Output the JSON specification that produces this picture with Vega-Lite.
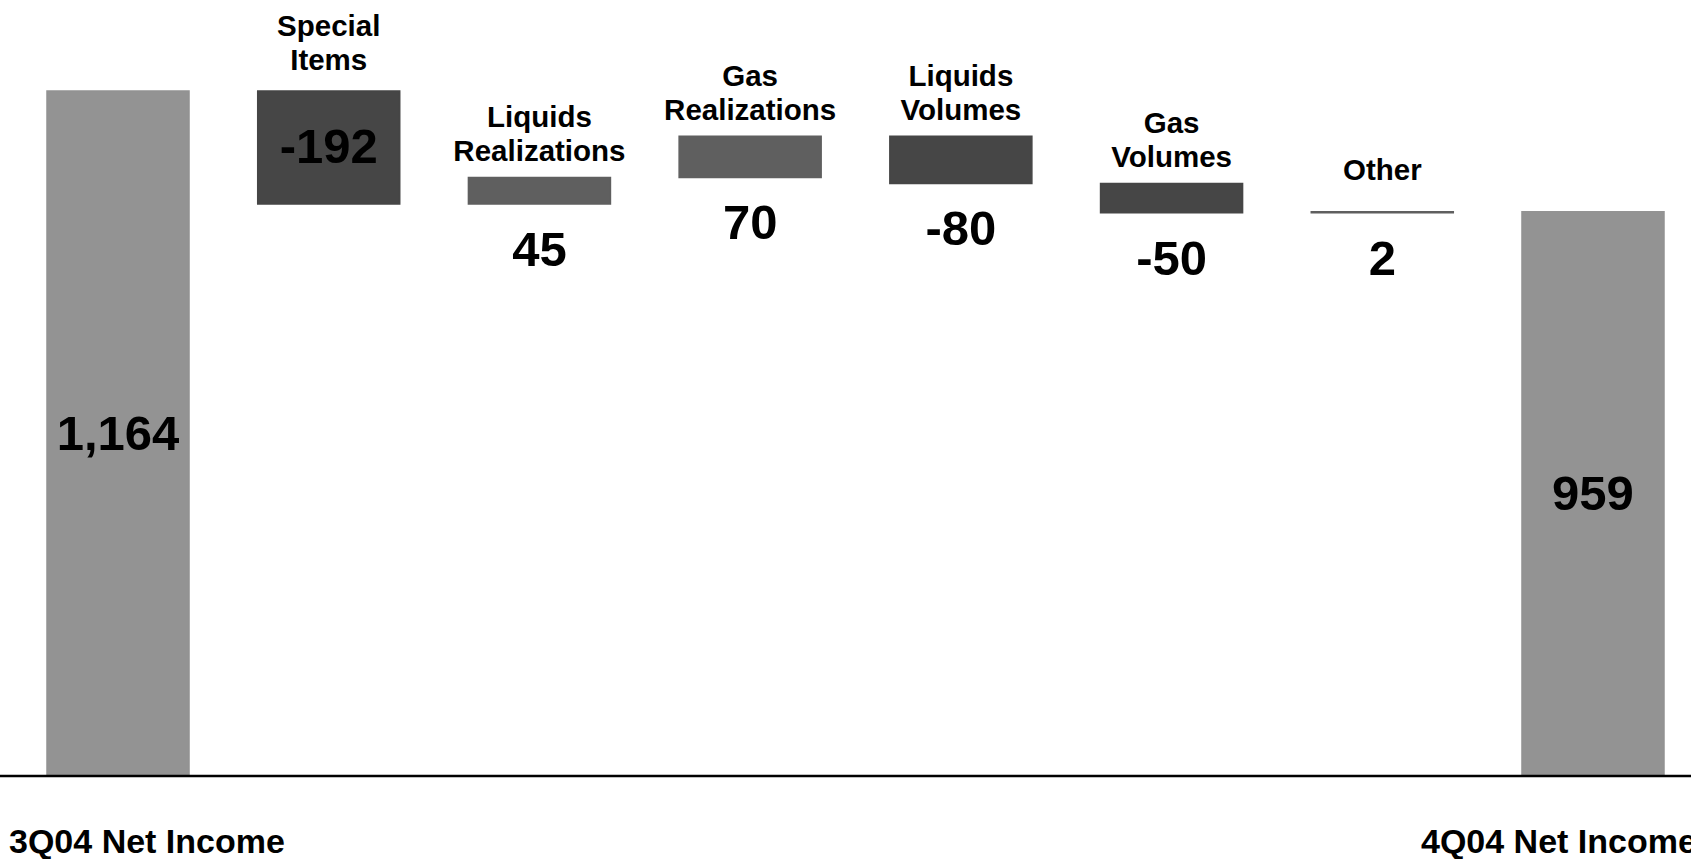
{
  "$schema": "https://vega.github.io/schema/vega-lite/v6.json",
  "width": 1691,
  "height": 859,
  "autosize": {"type": "none"},
  "padding": 0,
  "background": "white",
  "config": {"view": {"stroke": null}},
  "data": {
    "values": [
      {"cat": "3Q04 Net Income", "name": "3Q04 Net Income", "start": 0, "end": 1164, "kind": "total", "text": "1,164"},
      {"cat": "Special Items", "name": "Special\nItems", "start": 1164, "end": 972, "kind": "decrease", "text": "-192"},
      {"cat": "Liquids Realizations", "name": "Liquids\nRealizations", "start": 972, "end": 1017, "kind": "increase", "text": "45"},
      {"cat": "Gas Realizations", "name": "Gas\nRealizations", "start": 1017, "end": 1087, "kind": "increase", "text": "70"},
      {"cat": "Liquids Volumes", "name": "Liquids\nVolumes", "start": 1087, "end": 1007, "kind": "decrease", "text": "-80"},
      {"cat": "Gas Volumes", "name": "Gas\nVolumes", "start": 1007, "end": 957, "kind": "decrease", "text": "-50"},
      {"cat": "Other", "name": "Other", "start": 957, "end": 959, "kind": "increase", "text": "2"},
      {"cat": "4Q04 Net Income", "name": "4Q04 Net Income", "start": 0, "end": 959, "kind": "total", "text": "959"}
    ]
  },
  "transform": [
    {"calculate": "min(datum.start, datum.end)", "as": "lo"},
    {"calculate": "max(datum.start, datum.end)", "as": "hi"},
    {"calculate": "(datum.start + datum.end) / 2", "as": "mid"}
  ],
  "resolve": {"scale": {"x": "shared", "y": "shared"}},
  "layer": [
    {
      "mark": {"type": "bar", "strokeWidth": 1.5},
      "encoding": {
        "x": {"field": "cat", "type": "nominal", "sort": null, "axis": null,
              "scale": {"range": [47, 1664], "paddingInner": 0.326, "paddingOuter": 0}},
        "y": {"field": "start", "type": "quantitative", "axis": null,
              "scale": {"domain": [-141, 1318.6], "nice": false, "zero": false}},
        "y2": {"field": "end"},
        "color": {"field": "kind", "type": "nominal", "legend": null,
                  "scale": {"domain": ["total", "increase", "decrease"], "range": ["#939393", "#5f5f5f", "#464646"]}},
        "stroke": {"field": "kind", "type": "nominal", "legend": null,
                  "scale": {"domain": ["total", "increase", "decrease"], "range": ["#939393", "#5f5f5f", "#464646"]}}
      }
    },
    {
      "data": {"values": [{"base": 0}]},
      "mark": {"type": "rule", "color": "#000000", "strokeWidth": 2.5},
      "encoding": {"y": {"field": "base", "type": "quantitative"}}
    },
    {
      "transform": [{"filter": "datum.kind != 'total' && datum.cat != 'Special Items' && datum.cat != 'Other'"}],
      "mark": {"type": "text", "font": "Liberation Sans", "fontWeight": "bold", "fontSize": 29.5, "lineHeight": 34, "lineBreak": "\n", "baseline": "bottom", "align": "center", "dy": -44, "color": "#000000"},
      "encoding": {"x": {"field": "cat", "type": "nominal", "sort": null}, "y": {"field": "hi", "type": "quantitative"}, "text": {"field": "name"}}
    },
    {
      "transform": [{"filter": "datum.cat == 'Special Items'"}],
      "mark": {"type": "text", "font": "Liberation Sans", "fontWeight": "bold", "fontSize": 29.5, "lineHeight": 34, "lineBreak": "\n", "baseline": "bottom", "align": "center", "dy": -49, "color": "#000000"},
      "encoding": {"x": {"field": "cat", "type": "nominal", "sort": null}, "y": {"field": "hi", "type": "quantitative"}, "text": {"field": "name"}}
    },
    {
      "transform": [{"filter": "datum.cat == 'Other'"}],
      "mark": {"type": "text", "font": "Liberation Sans", "fontWeight": "bold", "fontSize": 29.5, "baseline": "bottom", "align": "center", "dy": -26, "color": "#000000"},
      "encoding": {"x": {"field": "cat", "type": "nominal", "sort": null}, "y": {"field": "hi", "type": "quantitative"}, "text": {"field": "name"}}
    },
    {
      "transform": [{"filter": "datum.kind != 'total' && datum.cat != 'Special Items'"}],
      "mark": {"type": "text", "font": "Liberation Sans", "fontWeight": "bold", "fontSize": 49, "baseline": "middle", "align": "center", "dy": 47, "color": "#000000"},
      "encoding": {"x": {"field": "cat", "type": "nominal", "sort": null}, "y": {"field": "lo", "type": "quantitative"}, "text": {"field": "text"}}
    },
    {
      "transform": [{"filter": "datum.kind == 'total' || datum.cat == 'Special Items'"}],
      "mark": {"type": "text", "font": "Liberation Sans", "fontWeight": "bold", "fontSize": 49, "baseline": "middle", "align": "center", "dy": 1, "color": "#000000"},
      "encoding": {"x": {"field": "cat", "type": "nominal", "sort": null}, "y": {"field": "mid", "type": "quantitative"}, "text": {"field": "text"}}
    },
    {
      "transform": [{"filter": "datum.cat == '3Q04 Net Income'"}],
      "mark": {"type": "text", "font": "Liberation Sans", "fontWeight": "bold", "fontSize": 34, "baseline": "alphabetic", "align": "left", "dx": -109, "color": "#000000"},
      "encoding": {"x": {"field": "cat", "type": "nominal", "sort": null}, "y": {"datum": -131}, "text": {"field": "name"}}
    },
    {
      "transform": [{"filter": "datum.cat == '4Q04 Net Income'"}],
      "mark": {"type": "text", "font": "Liberation Sans", "fontWeight": "bold", "fontSize": 34, "baseline": "alphabetic", "align": "left", "dx": -172, "color": "#000000"},
      "encoding": {"x": {"field": "cat", "type": "nominal", "sort": null}, "y": {"datum": -131}, "text": {"field": "name"}}
    }
  ]
}
